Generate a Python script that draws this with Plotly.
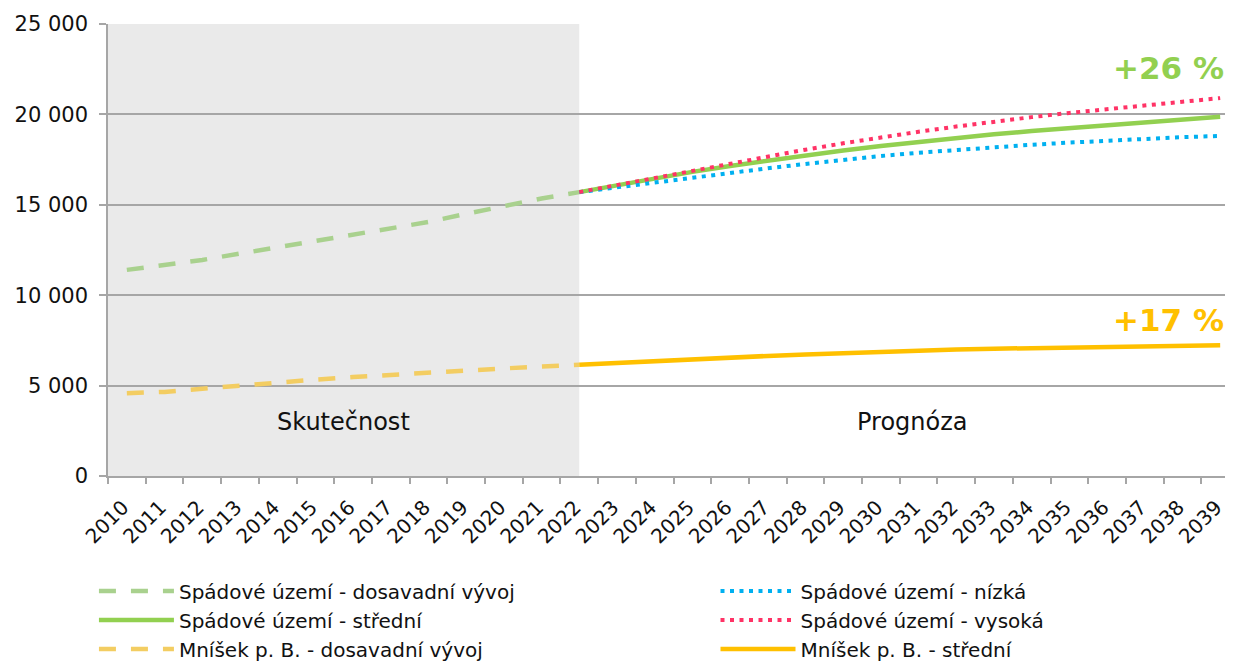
import plotly.graph_objects as go

years = [str(y) for y in range(2010, 2040)]
hist_years = [str(y) for y in range(2010, 2023)]
proj_years = [str(y) for y in range(2022, 2040)]

spadove_hist = [11400, 11650, 11950, 12300, 12650, 13000, 13350, 13700, 14050, 14500, 14950, 15350, 15700]
spadove_stredni = [15700, 16080, 16450, 16820, 17150, 17450, 17750, 18000, 18250, 18480, 18700, 18900, 19080, 19250, 19420, 19580, 19730, 19870]
spadove_nizka = [15700, 15970, 16240, 16500, 16770, 17020, 17260, 17490, 17700, 17880, 18040, 18180, 18320, 18440, 18550, 18650, 18740, 18810]
spadove_vysoka = [15700, 16100, 16500, 16900, 17300, 17680, 18050, 18400, 18730, 19040, 19330, 19600, 19850, 20080, 20300, 20500, 20700, 20900]
mnisek_hist = [4580, 4650, 4830, 5000, 5200, 5330, 5470, 5600, 5720, 5830, 5950, 6050, 6150]
mnisek_stredni = [6150, 6260, 6360, 6460, 6550, 6640, 6720, 6800, 6870, 6930, 6990, 7040, 7080, 7120, 7150, 7180, 7210, 7230]

y_ticks = [0, 5000, 10000, 15000, 20000, 25000]
y_tick_labels = ["0", "5 000", "10 000", "15 000", "20 000", "25 000"]

FONT = "DejaVu Sans"
fig = go.Figure()

fig.add_trace(go.Scatter(x=hist_years, y=spadove_hist, mode="lines", legend="legend",
                         name="Spádové území - dosavadní vývoj",
                         line=dict(color="#A9D18E", width=4.5, dash="17px,15px")))
fig.add_trace(go.Scatter(x=proj_years, y=spadove_stredni, mode="lines", legend="legend",
                         name="Spádové území - střední",
                         line=dict(color="#92D050", width=4.5)))
fig.add_trace(go.Scatter(x=hist_years, y=mnisek_hist, mode="lines", legend="legend",
                         name="Mníšek p. B. - dosavadní vývoj",
                         line=dict(color="#F3CD62", width=4.5, dash="17px,15px")))
fig.add_trace(go.Scatter(x=proj_years, y=spadove_nizka, mode="lines", legend="legend2",
                         name="Spádové území - nízká",
                         line=dict(color="#00B0F0", width=4, dash="4px,5.5px")))
fig.add_trace(go.Scatter(x=proj_years, y=spadove_vysoka, mode="lines", legend="legend2",
                         name="Spádové území - vysoká",
                         line=dict(color="#FF3366", width=4, dash="4px,5.5px")))
fig.add_trace(go.Scatter(x=proj_years, y=mnisek_stredni, mode="lines", legend="legend2",
                         name="Mníšek p. B. - střední",
                         line=dict(color="#FFC000", width=4.5)))

fig.add_shape(type="rect", xref="x", yref="y", x0=-0.5, x1=12, y0=0, y1=25000,
              fillcolor="#EAEAEA", line=dict(width=0), layer="below")

fig.add_annotation(x=5.75, y=0.084, xref="x", yref="paper", text="Skutečnost",
                   showarrow=False, font=dict(family=FONT, size=24, color="#111"))
fig.add_annotation(x=20.85, y=0.084, xref="x", yref="paper", text="Prognóza",
                   showarrow=False, font=dict(family=FONT, size=24, color="#111"))
fig.add_annotation(x=0.994, y=0.903, xref="paper", yref="paper", text="<b>+26 %</b>",
                   xanchor="right", yanchor="middle", showarrow=False,
                   font=dict(family=FONT, size=31, color="#92D050"))
fig.add_annotation(x=0.994, y=0.345, xref="paper", yref="paper", text="<b>+17 %</b>",
                   xanchor="right", yanchor="middle", showarrow=False,
                   font=dict(family=FONT, size=31, color="#FFC000"))

legend_common = dict(orientation="v", xanchor="left", yanchor="top", itemwidth=75,
                     font=dict(family=FONT, size=20, color="#111"),
                     bgcolor="rgba(0,0,0,0)", traceorder="normal")

# page body has an 8px offset, so the figure is 8px smaller and margins compensate
fig.update_layout(
    width=1225, height=655,
    margin=dict(l=100, r=0, t=16, b=187, autoexpand=False),
    paper_bgcolor="white", plot_bgcolor="white",
    font=dict(family=FONT, size=20, color="#111"),
    showlegend=True,
    legend=dict(x=-0.0125, y=-0.2115, **legend_common),
    legend2=dict(x=0.540, y=-0.2115, **legend_common),
    xaxis=dict(type="category", categoryorder="array", categoryarray=years,
               range=[-0.5, 29.34], tickangle=-45, tickson="boundaries",
               ticks="outside", ticklen=6, tickcolor="#A6A6A6", tickwidth=1.5,
               showline=True, linecolor="#A6A6A6", linewidth=1.5,
               showgrid=False, tickfont=dict(size=20), automargin=False,
               ticklabelstandoff=10, ticklabelshift=-4),
    yaxis=dict(range=[0, 25000], tickvals=y_ticks, ticktext=y_tick_labels,
               ticks="outside", ticklen=7, tickcolor="#A6A6A6", tickwidth=1.5,
               showline=True, linecolor="#A6A6A6", linewidth=1.5,
               showgrid=True, gridcolor="#A6A6A6", gridwidth=1.5,
               zeroline=False, tickfont=dict(size=21), automargin=False,
               ticklabelstandoff=7),
)

fig.write_html("out.html")
